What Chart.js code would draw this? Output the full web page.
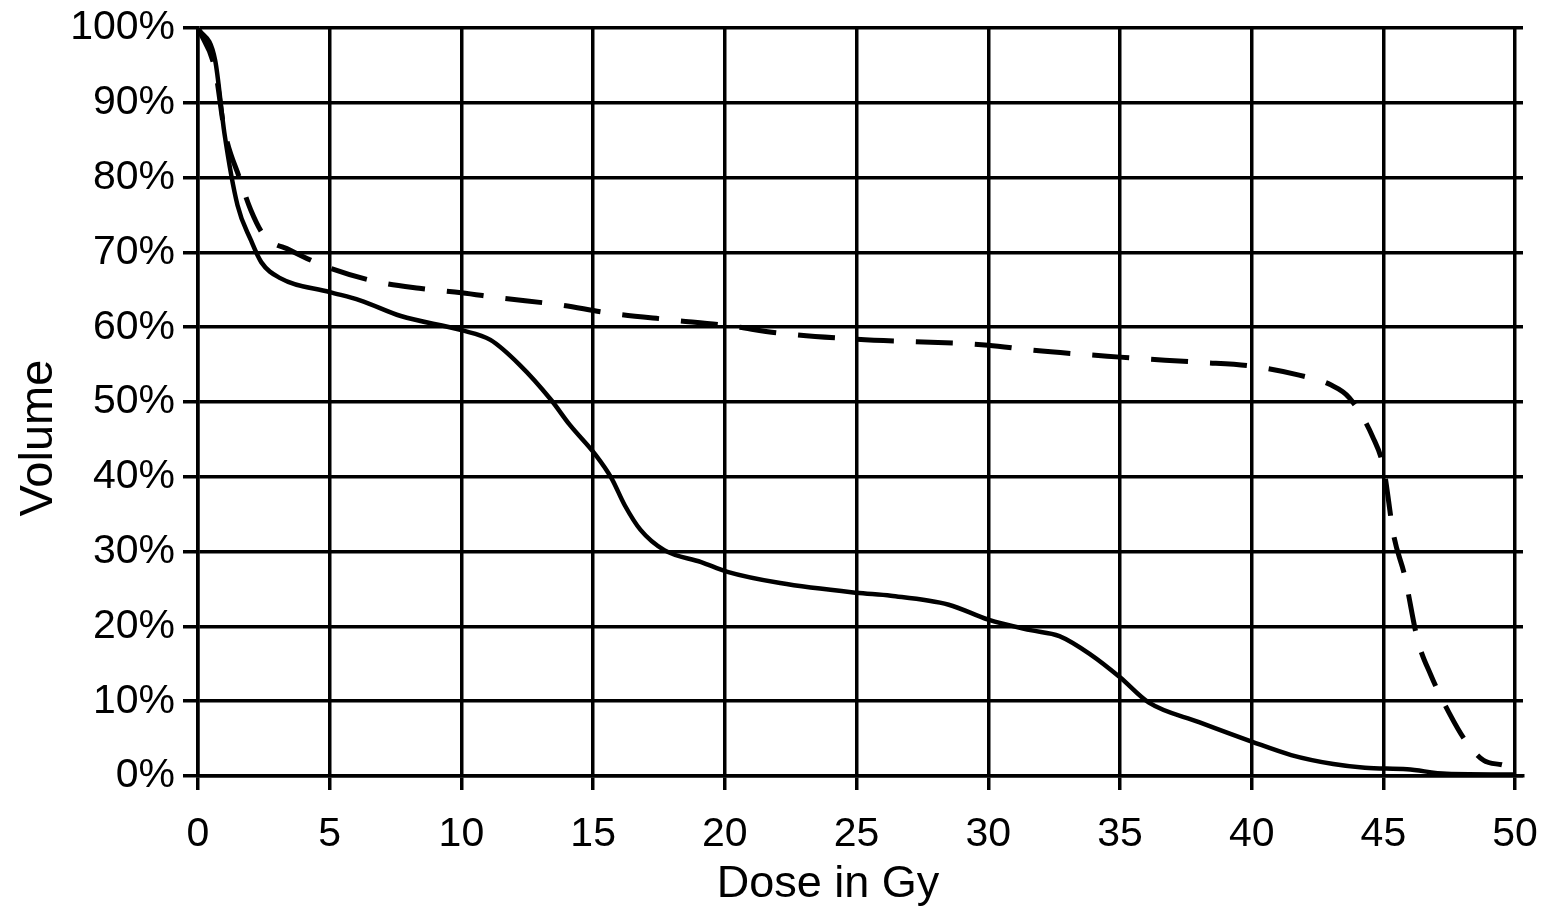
<!DOCTYPE html>
<html>
<head>
<meta charset="utf-8">
<script src="https://cdn.jsdelivr.net/npm/chart.js@4/dist/chart.umd.min.js"></script>
<style>
  html, body { margin: 0; padding: 0; background: #fff; }
  #wrap { width: 1547px; height: 909px; }
</style>
</head>
<body>
<div id="wrap"><canvas id="dvh"></canvas></div>
<script>
// dose-volume histogram, two curves

const doseSolid = [0, 0.65, 1.0, 1.5, 2.0, 2.4, 3.1, 5, 6.15, 7.7, 10, 11.1, 12.2, 13.4, 14.1, 15.1, 15.7, 16.2, 16.8, 17.7, 19.1, 20.1, 22.1, 25, 26.3, 28.5, 30, 31.6, 32.7, 33.9, 35, 36.1, 38, 40, 41.5, 43.1, 44.3, 45.9, 47.4, 50];
const volSolid  = [100, 95.7, 86, 76.3, 71.7, 68.7, 66.6, 64.7, 63.6, 61.5, 59.6, 58.3, 55, 50.3, 47, 42.9, 39.8, 36.2, 32.9, 30.2, 28.6, 27.3, 25.8, 24.5, 24.1, 22.9, 20.9, 19.5, 18.7, 16.2, 13.2, 9.8, 7.2, 4.6, 2.8, 1.6, 1.1, 0.9, 0.3, 0.2];

const doseDashed = [0, 0.65, 1.0, 1.6, 2.0, 2.5, 3.5, 5, 6.9, 8.4, 10, 11.5, 13.7, 15.6, 17.9, 20.1, 22.1, 25, 30, 31.6, 35, 38, 40, 41.8, 43, 43.7, 44.6, 45, 45.4, 45.8, 46.3, 46.8, 47.5, 48.1, 48.8, 49.5];
const volDashed  = [100, 94.4, 86.4, 79.7, 75.7, 72.3, 70.3, 67.9, 66.0, 65.2, 64.6, 63.9, 63.0, 61.9, 61.0, 60.2, 59.2, 58.4, 57.6, 56.95, 56, 55.3, 54.8, 53.6, 52.3, 50.6, 45.3, 41.3, 32, 26.9, 18.2, 13.5, 8.4, 4.8, 2.1, 1.5];

const xTicks = [0, 5, 10, 15, 20, 25, 30, 35, 40, 45, 50];
const yTicks = [0, 10, 20, 30, 40, 50, 60, 70, 80, 90, 100];

const xTitle = 'Dose in Gy';
const yTitle = 'Volume';

const toPoints = (xs, ys) => xs.map((x, i) => ({ x: x, y: ys[i] }));

const FONT = "'Liberation Sans', Arial, sans-serif";

// keep the scales from reserving room for overhanging labels
const noOverhang = s => {
    s.paddingLeft = 0; s.paddingRight = 0;
    s.paddingTop = 0; s.paddingBottom = 0;
};

// axis titles sit a little off-centre, so they are drawn by hand
const axisTitles = {
    id: 'axisTitles',
    afterDraw(chart) {
        const { ctx, chartArea: a } = chart;
        ctx.save();
        ctx.fillStyle = '#000';
        ctx.textAlign = 'center';
        ctx.textBaseline = 'alphabetic';

        ctx.font = '45px ' + FONT;
        ctx.fillText(xTitle, a.left + 630, a.bottom + 121);

        ctx.font = '47px ' + FONT;
        ctx.translate(a.left - 146, a.top + 410);
        ctx.rotate(-Math.PI / 2);
        ctx.fillText(yTitle, 0, 0);
        ctx.restore();
    }
};

new Chart(document.getElementById('dvh'), {
    type: 'line',
    data: {
        datasets: [
            {
                data: toPoints(doseSolid, volSolid),
                borderColor: '#000',
                borderWidth: 4.5,
                pointRadius: 0,
                cubicInterpolationMode: 'monotone',
                fill: false
            },
            {
                data: toPoints(doseDashed, volDashed),
                borderColor: '#000',
                borderWidth: 5,
                borderDash: [37, 22],
                pointRadius: 0,
                cubicInterpolationMode: 'monotone',
                fill: false
            }
        ]
    },
    plugins: [axisTitles],
    options: {
        responsive: true,
        maintainAspectRatio: false,
        animation: false,
        layout: { padding: { top: 28, right: 24, left: 0, bottom: 0 } },
        plugins: { legend: { display: false }, tooltip: { enabled: false } },
        scales: {
            x: {
                type: 'linear',
                min: 0,
                max: 50.3,   // horizontal rules run a bit past the 50 Gy line
                afterBuildTicks: s => { s.ticks = xTicks.map(v => ({ value: v })); },
                afterFit: s => { s.height = 133; noOverhang(s); },
                grid: { color: '#000', lineWidth: 3.5, tickLength: 14 },
                border: { color: '#000', width: 3.5 },
                ticks: { color: '#000', font: { family: FONT, size: 41 }, padding: 20, maxRotation: 0 }
            },
            y: {
                min: 0,
                max: 100,
                afterBuildTicks: s => { s.ticks = yTicks.map(v => ({ value: v })); },
                afterFit: s => { s.width = 198; noOverhang(s); },
                grid: { color: '#000', lineWidth: 3.5, tickLength: 15 },
                border: { color: '#000', width: 3.5 },
                ticks: { color: '#000', font: { family: FONT, size: 41 }, padding: 8, callback: v => v + '%' }
            }
        }
    }
});
</script>
</body>
</html>
